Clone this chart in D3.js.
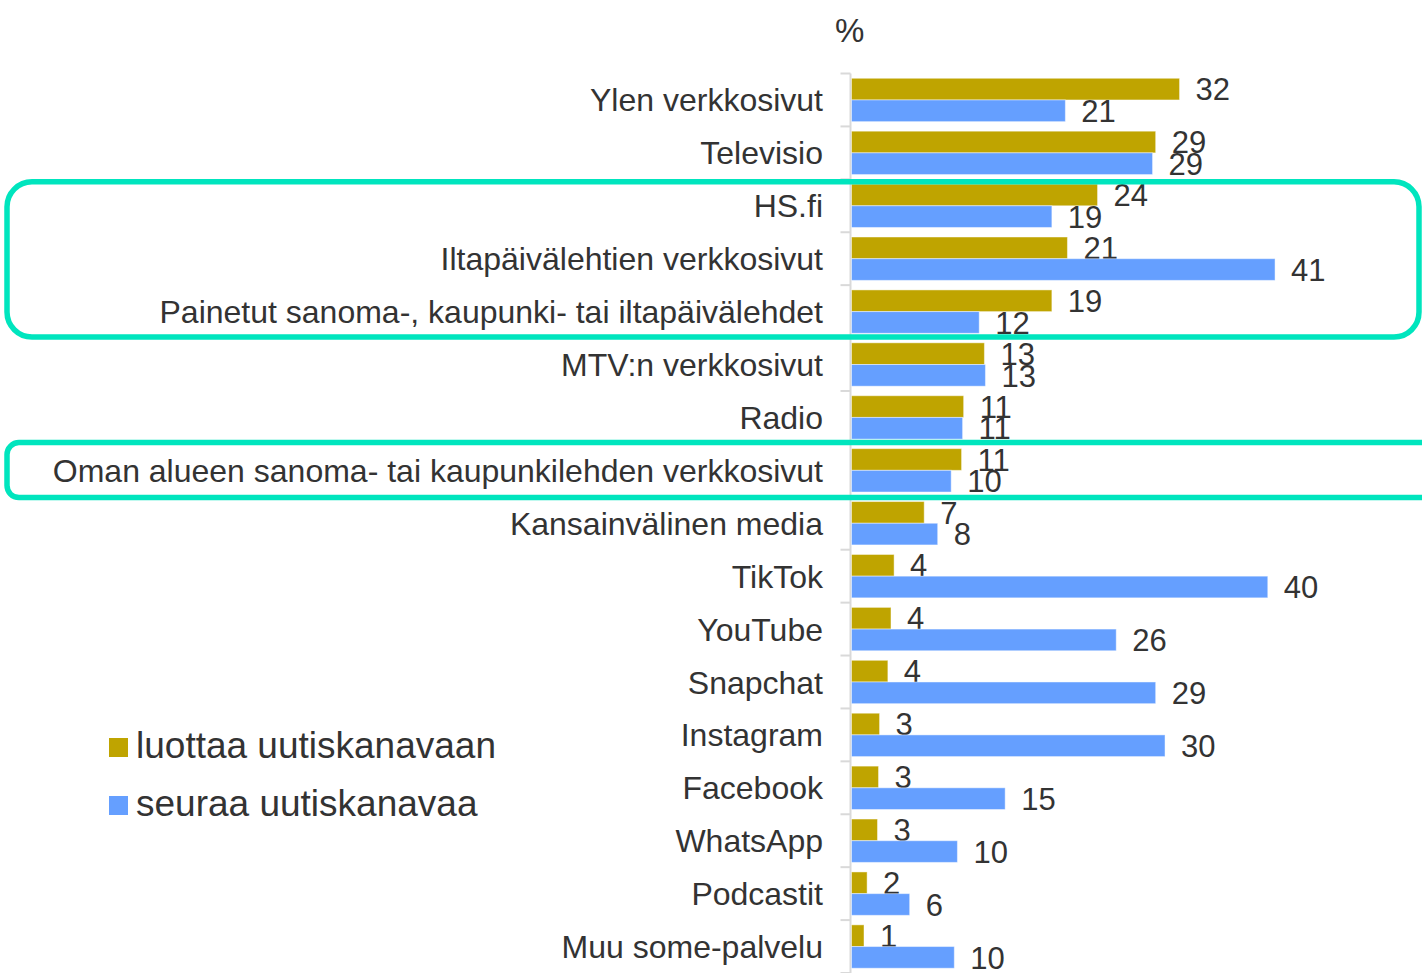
<!DOCTYPE html>
<html>
<head>
<meta charset="utf-8">
<script src="https://cdn.jsdelivr.net/npm/d3@7"></script>
<style>
  body { margin: 0; background: #fff; }
  svg { display: block; font-family: "Liberation Sans", Arial, sans-serif; }
</style>
</head>
<body>
<div id="chart"></div>
<script>
// categories, top to bottom
const categories = [
    "Ylen verkkosivut",
    "Televisio",
    "HS.fi",
    "Iltapäivälehtien verkkosivut",
    "Painetut sanoma-, kaupunki- tai iltapäivälehdet",
    "MTV:n verkkosivut",
    "Radio",
    "Oman alueen sanoma- tai kaupunkilehden verkkosivut",
    "Kansainvälinen media",
    "TikTok",
    "YouTube",
    "Snapchat",
    "Instagram",
    "Facebook",
    "WhatsApp",
    "Podcastit",
    "Muu some-palvelu"
];

// values (labels are rounded)
const trusts = [31.7, 29.4, 23.8, 20.9, 19.4, 12.9, 10.9, 10.7, 7.1, 4.2, 3.9, 3.6, 2.8, 2.7, 2.6, 1.6, 1.3];
const follows = [20.7, 29.1, 19.4, 40.9, 12.4, 13.0, 10.8, 9.7, 8.4, 40.2, 25.6, 29.4, 30.3, 14.9, 10.3, 5.7, 10.0];

const seriesNames = ["luottaa uutiskanavaan", "seuraa uutiskanavaa"];
const seriesColors = ["#bfa400", "#659fff"];

// highlighted groups (first and last category of each box)
const highlights = [
    { from: "HS.fi", to: "Painetut sanoma-, kaupunki- tai iltapäivälehdet", rx: 25, right: 1419 },
    { from: "Oman alueen sanoma- tai kaupunkilehden verkkosivut", to: "Oman alueen sanoma- tai kaupunkilehden verkkosivut", rx: 12, right: 1500 }
];

const width = 1422, height = 973;
const textColor = "#333";

const svg = d3.select("#chart").append("svg")
    .attr("width", width)
    .attr("height", height);

const x = d3.scaleLinear().domain([0, 55]).range([850.5, 1421.4]);

const y = d3.scaleBand().domain(categories).range([73.5, 973]).padding(0);

const ySub = d3.scaleBand()
    .domain(seriesNames)
    .range([0, y.bandwidth()])
    .paddingInner(0)
    .paddingOuter(0.22);

const rows = categories.map((c, i) => ({
    category: c,
    values: [trusts[i], follows[i]]
}));

// axis line with ticks between categories
const axis = svg.append("g").attr("class", "axis");
axis.append("line")
    .attr("x1", x(0)).attr("x2", x(0))
    .attr("y1", y.range()[0]).attr("y2", y.range()[1])
    .attr("stroke", "#d9d9d9")
    .attr("stroke-width", 2);

const boundaries = categories.map(c => y(c)).concat([y.range()[1]]);
axis.selectAll(".tick")
    .data(boundaries)
    .enter()
    .append("line")
    .attr("x1", x(0) - 10).attr("x2", x(0))
    .attr("y1", d => d).attr("y2", d => d)
    .attr("stroke", "#d9d9d9")
    .attr("stroke-width", 2);

// category labels
svg.append("g")
    .selectAll("text")
    .data(categories)
    .enter()
    .append("text")
    .attr("x", 823)
    .attr("y", d => y(d) + y.bandwidth() / 2)
    .attr("dy", "0.36em")
    .attr("text-anchor", "end")
    .attr("font-size", "32px")
    .attr("fill", textColor)
    .text(d => d);

// bars
const groups = svg.append("g")
    .selectAll(".row")
    .data(rows)
    .enter()
    .append("g")
    .attr("class", "row")
    .attr("transform", d => `translate(0,${y(d.category)})`);

const fmt = d3.format(".0f");

seriesNames.forEach((s, j) => {
    groups.append("rect")
        .attr("x", x(0) + 1)
        .attr("y", ySub(s))
        .attr("width", d => x(d.values[j]) - x(0) - 1)
        .attr("height", ySub.bandwidth())
        .attr("fill", seriesColors[j])
        .attr("stroke", "#fff")
        .attr("stroke-opacity", 0.45)
        .attr("stroke-width", 1);

    groups.append("text")
        .attr("x", d => x(d.values[j]) + 16)
        .attr("y", ySub(s) + ySub.bandwidth() / 2)
        .attr("dy", "0.36em")
        .attr("font-size", "31px")
        .attr("fill", textColor)
        .text(d => fmt(d.values[j]));
});

// unit
svg.append("text")
    .attr("x", 835)
    .attr("y", 42)
    .attr("font-size", "33px")
    .attr("fill", textColor)
    .text("%");

// legend
const legend = svg.append("g").attr("transform", "translate(109,738)");
seriesNames.forEach((s, i) => {
    const row = legend.append("g").attr("transform", `translate(0,${i * 58})`);
    row.append("rect")
        .attr("width", 19)
        .attr("height", 19)
        .attr("fill", seriesColors[i]);
    row.append("text")
        .attr("x", 27)
        .attr("y", 20)
        .attr("font-size", "37px")
        .attr("fill", textColor)
        .text(s);
});

// highlight boxes drawn on top
highlights.forEach(h => {
    const top = y(h.from);
    const bottom = y(h.to) + y.bandwidth();
    const single = h.from === h.to;
    const y0 = single ? top - 1.3 : top + 2.5;
    const y1 = single ? bottom + 0.8 : bottom - 1;
    svg.append("rect")
        .attr("x", 7)
        .attr("y", y0)
        .attr("width", h.right - 7)
        .attr("height", y1 - y0)
        .attr("rx", h.rx)
        .attr("fill", "none")
        .attr("stroke", "#00e5be")
        .attr("stroke-width", 5.5);
});
</script>
</body>
</html>
